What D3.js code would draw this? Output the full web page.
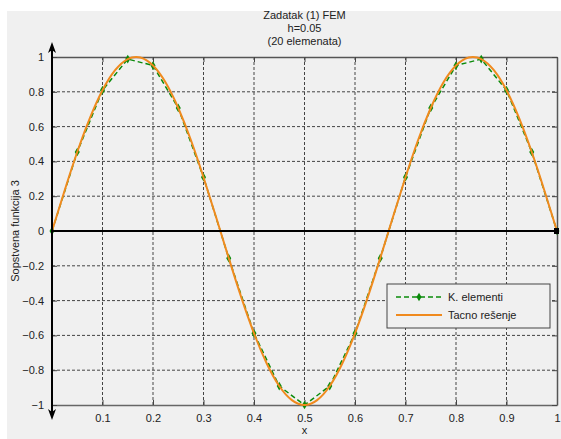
<!DOCTYPE html>
<meta charset="utf-8">
<style>
body { margin: 0; background: #fff; }
svg text { font-family: "Liberation Sans", Arial, sans-serif; font-size: 11px; fill: #222; }
.grid line { stroke: #444; stroke-width: 1; stroke-dasharray: 3,2; }
</style>
<svg width="561" height="439"></svg>
<script src="https://d3js.org/d3.v7.min.js"></script>
<script>
// FEM nodal values, h = 0.05
var femX = [0, 0.05, 0.1, 0.15, 0.2, 0.25, 0.3, 0.35, 0.4, 0.45, 0.5,
            0.55, 0.6, 0.65, 0.7, 0.75, 0.8, 0.85, 0.9, 0.95, 1];
var femY = [0, 0.454, 0.809, 0.988, 0.951, 0.707, 0.309, -0.156, -0.588, -0.891, -1,
            -0.891, -0.588, -0.156, 0.309, 0.707, 0.951, 0.988, 0.809, 0.454, 0];
// exact solution, sampled every 0.025
var exactX = [0, 0.025, 0.05, 0.075, 0.1, 0.125, 0.15, 0.175, 0.2, 0.225, 0.25, 0.275, 0.3, 0.325,
              0.35, 0.375, 0.4, 0.425, 0.45, 0.475, 0.5, 0.525, 0.55, 0.575, 0.6, 0.625, 0.65,
              0.675, 0.7, 0.725, 0.75, 0.775, 0.8, 0.825, 0.85, 0.875, 0.9, 0.925, 0.95, 0.975, 1];
var exactY = [0, 0.233, 0.454, 0.649, 0.809, 0.924, 0.988, 0.997, 0.951, 0.853, 0.707, 0.523, 0.309, 0.079,
              -0.156, -0.383, -0.588, -0.760, -0.891, -0.972, -1, -0.972, -0.891, -0.760, -0.588, -0.383, -0.156,
              0.079, 0.309, 0.523, 0.707, 0.853, 0.951, 0.997, 0.988, 0.924, 0.809, 0.649, 0.454, 0.233, 0];
var xTicks = [0.1, 0.2, 0.3, 0.4, 0.5, 0.6, 0.7, 0.8, 0.9, 1];
var yTicks = [-1, -0.8, -0.6, -0.4, -0.2, 0, 0.2, 0.4, 0.6, 0.8, 1];
var titleLines = ["Zadatak (1) FEM", "h=0.05", "(20 elemenata)"];
var legendNames = ["K. elementi", "Tacno rešenje"];

var svg = d3.select("svg");
var pLeft = 52, pRight = 557, pTop = 57, pBottom = 405;
var green = "#0a8a0a", orange = "#f08a1e";

var x = d3.scaleLinear().domain([0, 1]).range([pLeft, pRight]);
var y = d3.scaleLinear().domain([-1, 1]).range([pBottom, pTop]);

// figure background
svg.append("rect").attr("x", 7).attr("y", 11).attr("width", 554).attr("height", 428).attr("fill", "#f0f0f0");

// grid
var grid = svg.append("g").attr("class", "grid");
grid.selectAll(".gx").data(xTicks.filter(function(d) { return d < 1; })).enter().append("line")
    .attr("x1", function(d) { return x(d); }).attr("x2", function(d) { return x(d); })
    .attr("y1", pTop).attr("y2", pBottom);
grid.selectAll(".gy").data(yTicks.filter(function(d) { return d > -1 && d < 1; })).enter().append("line")
    .attr("x1", pLeft).attr("x2", pRight)
    .attr("y1", function(d) { return y(d); }).attr("y2", function(d) { return y(d); });

// axes with inward ticks
var ax = svg.append("g").attr("transform", "translate(0," + pBottom + ")")
    .call(d3.axisBottom(x).tickValues(xTicks).tickSizeInner(-5).tickSizeOuter(0).tickPadding(9).tickFormat(d3.format("")));
ax.select(".domain").attr("stroke", "#666").attr("stroke-width", 1.5);
var axTop = svg.append("g").attr("transform", "translate(0," + pTop + ")")
    .call(d3.axisTop(x).tickValues(xTicks).tickSizeInner(-5).tickSizeOuter(0).tickFormat(""));
axTop.select(".domain").attr("stroke", "#555").attr("stroke-width", 1.5);
var ay = svg.append("g").attr("transform", "translate(" + pLeft + ",0)")
    .call(d3.axisLeft(y).tickValues(yTicks).tickSizeInner(-5).tickSizeOuter(0).tickPadding(8).tickFormat(d3.format("")));
ay.select(".domain").remove();
var ayR = svg.append("g").attr("transform", "translate(" + pRight + ",0)")
    .call(d3.axisRight(y).tickValues(yTicks).tickSizeInner(-5).tickSizeOuter(0).tickFormat(""));
ayR.select(".domain").attr("stroke", "#555").attr("stroke-width", 1.5);
svg.selectAll(".tick line").attr("stroke", "#444");
svg.selectAll(".tick text").attr("fill", "#222").style("font-size", "11px")
    .style("font-family", "'Liberation Sans', Arial, sans-serif");

// data lines
var femLine = d3.line().x(function(d) { return x(femX[d]); }).y(function(d) { return y(femY[d]); });
var exactLine = d3.line().curve(d3.curveNatural)
    .x(function(d) { return x(exactX[d]); }).y(function(d) { return y(exactY[d]); });

svg.append("path").datum(d3.range(femX.length)).attr("d", femLine)
    .attr("fill", "none").attr("stroke", green).attr("stroke-width", 1.5).attr("stroke-dasharray", "5,3");
svg.selectAll(".mk").data(d3.range(femX.length)).enter().append("path")
    .attr("d", d3.symbol().type(d3.symbolDiamond).size(22))
    .attr("transform", function(d) { return "translate(" + x(femX[d]) + "," + y(femY[d]) + ")"; })
    .attr("fill", green);
svg.append("path").datum(d3.range(exactX.length)).attr("d", exactLine)
    .attr("fill", "none").attr("stroke", orange).attr("stroke-width", 2);

// black coordinate axes with arrows
svg.append("line").attr("x1", x(0)).attr("x2", x(1)).attr("y1", y(0)).attr("y2", y(0))
    .attr("stroke", "#000").attr("stroke-width", 2);
svg.append("rect").attr("x", x(1) - 3).attr("y", y(0) - 3).attr("width", 5).attr("height", 6).attr("fill", "#000");
svg.append("line").attr("x1", x(0)).attr("x2", x(0)).attr("y1", 46).attr("y2", 416)
    .attr("stroke", "#000").attr("stroke-width", 2);
svg.append("path").attr("d", "M" + x(0) + ",42 l-4,11 l4,-3 l4,3 z").attr("fill", "#000");
svg.append("path").attr("d", "M" + x(0) + ",420 l-4,-11 l4,3 l4,-3 z").attr("fill", "#000");

// title and labels
svg.selectAll(".title").data(titleLines).enter().append("text")
    .attr("x", (pLeft + pRight) / 2).attr("y", function(d, i) { return 19 + i * 13; })
    .attr("text-anchor", "middle").text(function(d) { return d; });
svg.append("text").attr("x", (pLeft + pRight) / 2).attr("y", 434).attr("text-anchor", "middle").text("x");
svg.append("text").attr("transform", "translate(19," + y(0) + ") rotate(-90)")
    .attr("text-anchor", "middle").text("Sopstvena funkcija 3");

// legend
var lg = svg.append("g").attr("transform", "translate(387,284)");
lg.append("rect").attr("width", 163).attr("height", 44).attr("fill", "#f0f0f0").attr("stroke", "#444");
lg.append("line").attr("x1", 9).attr("x2", 55).attr("y1", 13).attr("y2", 13)
    .attr("stroke", green).attr("stroke-width", 1.5).attr("stroke-dasharray", "5,3");
lg.append("path").attr("d", d3.symbol().type(d3.symbolDiamond).size(22)).attr("transform", "translate(32,13)").attr("fill", green);
lg.append("line").attr("x1", 9).attr("x2", 55).attr("y1", 31).attr("y2", 31)
    .attr("stroke", orange).attr("stroke-width", 2);
lg.selectAll(".ln").data(legendNames).enter().append("text")
    .attr("x", 61).attr("y", function(d, i) { return 17 + i * 18; }).text(function(d) { return d; });
</script>
